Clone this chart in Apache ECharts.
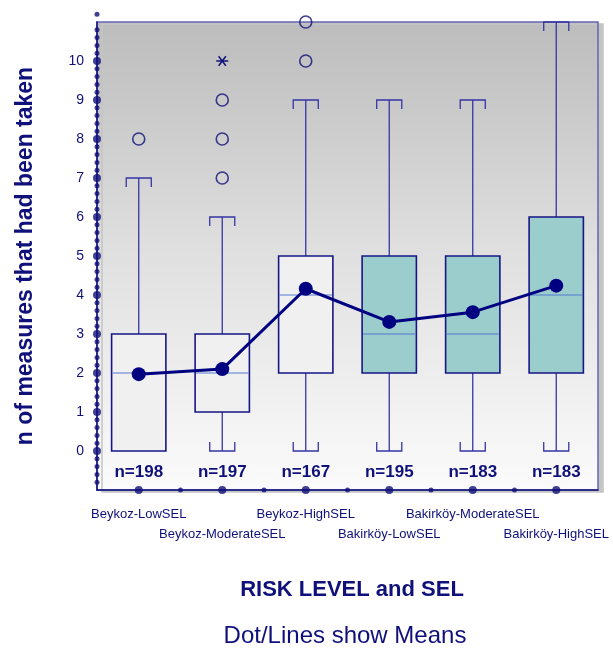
<!DOCTYPE html>
<html>
<head>
<meta charset="utf-8">
<script src="https://cdn.jsdelivr.net/npm/echarts@6/dist/echarts.min.js"></script>
<style>
  html, body { margin: 0; padding: 0; background: #fff; }
  #chart { width: 613px; height: 650px; }
</style>
</head>
<body>
<div id="chart"></div>
<script>
const categories = ["Beykoz-LowSEL", "Beykoz-ModerateSEL", "Beykoz-HighSEL",
    "Bakirköy-LowSEL", "Bakirköy-ModerateSEL", "Bakirköy-HighSEL"];
const whiskerLow = [0, 0, 0, 0, 0, 0];
const q1 = [0, 1, 2, 2, 2, 2];
const median = [2, 2, 4, 3, 3, 4];
const q3 = [3, 3, 5, 5, 5, 6];
const whiskerHigh = [7, 6, 9, 9, 9, 11];
const means = [1.97, 2.1, 4.16, 3.31, 3.56, 4.24];
const nCounts = [198, 197, 167, 195, 183, 183];
const outliers = [[0, 8], [1, 7], [1, 8], [1, 9], [2, 10], [2, 11]];
const extremes = [[1, 10]];
const yTickLabels = [0, 1, 2, 3, 4, 5, 6, 7, 8, 9, 10];

const NAVY = "#10107a";
const FONT = "'Liberation Sans', Arial, sans-serif";
const boxFill = ["#f0f0f0", "#f0f0f0", "#f0f0f0", "#9ccdcd", "#9ccdcd", "#9ccdcd"];

// decoration dots along the axes
const yMajorDots = yTickLabels.map(v => [0, v]);
const yMinorDots = [];
for (let k = -4; k <= 56; k++) {
    if (k % 5 !== 0) yMinorDots.push([0, k / 5]);
}
const xMajorDots = [[0.5, -1], [1.5, -1], [2.5, -1], [3.5, -1], [4.5, -1], [5.5, -1]];
const xMinorDots = [[1, -1], [2, -1], [3, -1], [4, -1], [5, -1]];

const boxData = categories.map((c, i) =>
    [i, whiskerLow[i], q1[i], median[i], q3[i], whiskerHigh[i], nCounts[i]]);

const chart = echarts.init(document.getElementById("chart"));

function renderBox(params, api) {
    const i = api.value(0);
    const x = api.coord([i, 0])[0];
    const yLow = api.coord([i, api.value(1)])[1];
    const yQ1 = api.coord([i, api.value(2)])[1];
    const yMed = api.coord([i, api.value(3)])[1];
    const yQ3 = api.coord([i, api.value(4)])[1];
    const yHigh = api.coord([i, api.value(5)])[1];
    const band = api.size([1, 0])[0];
    const bw = band * 0.65;
    const cw = band * 0.3;
    const t = 9;
    const wStyle = { stroke: "#3535a5", lineWidth: 1.3, fill: null };
    const children = [];
    children.push({ type: "line", shape: { x1: x, y1: yQ3, x2: x, y2: yHigh }, style: wStyle });
    children.push({ type: "polyline", shape: { points: [[x - cw / 2, yHigh + t], [x - cw / 2, yHigh], [x + cw / 2, yHigh], [x + cw / 2, yHigh + t]] }, style: wStyle });
    if (api.value(2) > api.value(1)) {
        children.push({ type: "line", shape: { x1: x, y1: yQ1, x2: x, y2: yLow }, style: wStyle });
        children.push({ type: "polyline", shape: { points: [[x - cw / 2, yLow - t], [x - cw / 2, yLow], [x + cw / 2, yLow], [x + cw / 2, yLow - t]] }, style: wStyle });
    }
    children.push({ type: "rect", shape: { x: x - bw / 2, y: yQ3, width: bw, height: yQ1 - yQ3 },
        style: { fill: boxFill[i], stroke: "#161685", lineWidth: 1.6 } });
    children.push({ type: "line", shape: { x1: x - bw / 2 + 1, y1: yMed, x2: x + bw / 2 - 1, y2: yMed },
        style: { stroke: "#5578d0", lineWidth: 1.2 } });
    const yN = api.coord([i, -0.55])[1];
    children.push({ type: "text", style: { x: x, y: yN, text: "n=" + api.value(6), align: "center", verticalAlign: "middle",
        fill: NAVY, font: "bold 17px " + FONT } });
    return { type: "group", children: children };
}

function renderStar(params, api) {
    const c = api.coord([api.value(0), api.value(1)]);
    const r = 6;
    const s = { stroke: NAVY, lineWidth: 1.5 };
    return { type: "group", children: [
        { type: "line", shape: { x1: c[0] - r, y1: c[1], x2: c[0] + r, y2: c[1] }, style: s },
        { type: "line", shape: { x1: c[0] - r * 0.6, y1: c[1] - r * 0.8, x2: c[0] + r * 0.6, y2: c[1] + r * 0.8 }, style: s },
        { type: "line", shape: { x1: c[0] + r * 0.6, y1: c[1] - r * 0.8, x2: c[0] - r * 0.6, y2: c[1] + r * 0.8 }, style: s }
    ] };
}

chart.setOption({
    animation: false,
    textStyle: { fontFamily: FONT },
    grid: {
        left: 97, right: 15, top: 22, bottom: 160,
        show: true,
        backgroundColor: { type: "linear", x: 0, y: 0, x2: 0, y2: 1,
            colorStops: [{ offset: 0, color: "#bcbcbc" }, { offset: 0.5, color: "#e0e0e0" }, { offset: 1, color: "#fbfbfb" }] },
        borderColor: "#6464b4",
        borderWidth: 1.5,
        shadowColor: "#c4c4c4",
        shadowOffsetX: 5,
        shadowOffsetY: 2,
        shadowBlur: 0
    },
    xAxis: [{
        type: "category",
        data: categories,
        axisLine: { onZero: false, lineStyle: { color: NAVY, width: 1.5 } },
        axisTick: { show: false },
        axisLabel: {
            interval: 0,
            margin: 14,
            color: NAVY,
            fontSize: 13,
            lineHeight: 20,
            formatter: (v, i) => (i % 2 ? "\n" + v : v)
        },
        splitLine: { show: false }
    }, {
        type: "value",
        min: 0, max: 6,
        show: false
    }],
    yAxis: {
        type: "value",
        min: -1, max: 11, interval: 1,
        axisLine: { show: true, lineStyle: { color: NAVY, width: 1.5 } },
        axisTick: { show: false },
        splitLine: { show: false },
        axisLabel: {
            color: NAVY, fontSize: 14, margin: 13,
            formatter: v => (yTickLabels.indexOf(v) >= 0 ? String(v) : "")
        },
        name: "n of measures that had been taken",
        nameLocation: "middle",
        nameGap: 60,
        nameTextStyle: { color: NAVY, fontSize: 23, fontWeight: "bold" }
    },
    graphic: [{
        type: "text",
        x: 352, y: 590,
        style: { text: "RISK LEVEL and SEL", fill: NAVY, font: "bold 22px " + FONT, align: "center", verticalAlign: "middle" }
    }, {
        type: "text",
        x: 345, y: 636,
        style: { text: "Dot/Lines show Means", fill: NAVY, font: "24px " + FONT, align: "center", verticalAlign: "middle" }
    }],
    series: [{
        type: "custom",
        renderItem: renderBox,
        data: boxData,
        z: 2
    }, {
        type: "scatter",
        data: outliers,
        symbol: "circle",
        symbolSize: 12,
        itemStyle: { color: "rgba(0,0,0,0)", borderColor: NAVY, borderWidth: 1.6 },
        clip: false,
        z: 3
    }, {
        type: "custom",
        renderItem: renderStar,
        data: extremes,
        z: 3
    }, {
        type: "line",
        data: means,
        symbol: "circle",
        symbolSize: 14,
        lineStyle: { color: "#000080", width: 3 },
        itemStyle: { color: "#000080" },
        z: 5
    }, {
        type: "scatter",
        xAxisIndex: 1,
        data: yMajorDots.concat(xMajorDots),
        symbolSize: 8,
        itemStyle: { color: NAVY },
        clip: false,
        z: 6
    }, {
        type: "scatter",
        xAxisIndex: 1,
        data: yMinorDots.concat(xMinorDots),
        symbolSize: 5,
        itemStyle: { color: NAVY },
        clip: false,
        z: 6
    }]
});
</script>
</body>
</html>
